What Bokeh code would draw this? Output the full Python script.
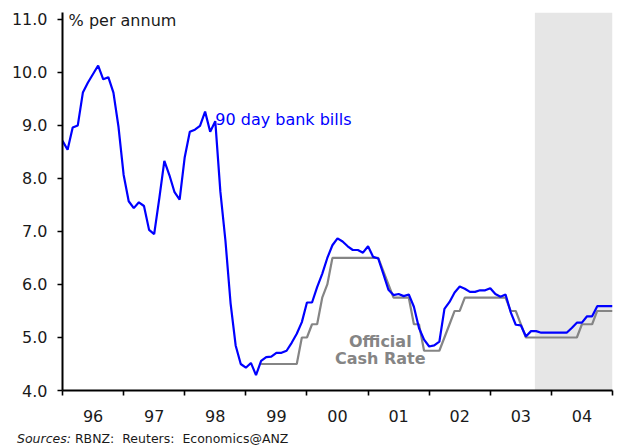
from bokeh.plotting import figure
from bokeh.models import (FixedTicker, Label, BoxAnnotation, PrintfTickFormatter,
                          ColumnDataSource, Div)
from bokeh.layouts import column
from bokeh.embed import file_html
from bokeh.resources import INLINE

# Monthly series, January 1996 onwards (% per annum)
start_year = 1996
bank_bills_90d = [
    8.71, 8.54, 8.96, 9.00, 9.62, 9.81, 9.97, 10.13, 9.87, 9.91, 9.62, 8.97,   # 1996
    8.07, 7.57, 7.44, 7.55, 7.48, 7.03, 6.95, 7.62, 8.33, 8.06, 7.74, 7.60,    # 1997
    8.40, 8.88, 8.92, 8.99, 9.26, 8.88, 9.08, 7.75, 6.82, 5.65, 4.85, 4.50,    # 1998
    4.43, 4.52, 4.29, 4.56, 4.63, 4.64, 4.71, 4.71, 4.75, 4.90, 5.07, 5.29,    # 1999
    5.66, 5.66, 5.95, 6.20, 6.50, 6.74, 6.87, 6.81, 6.72, 6.65, 6.65, 6.60,    # 2000
    6.72, 6.52, 6.49, 6.20, 5.90, 5.80, 5.82, 5.78, 5.81, 5.58, 5.18, 4.96,    # 2001
    4.83, 4.85, 4.92, 5.54, 5.67, 5.85, 5.96, 5.92, 5.86, 5.86, 5.89, 5.89,    # 2002
    5.93, 5.82, 5.77, 5.81, 5.48, 5.24, 5.23, 5.02, 5.12, 5.12, 5.09, 5.09,    # 2003
    5.09, 5.09, 5.09, 5.09, 5.18, 5.28, 5.28, 5.40, 5.40, 5.59, 5.59, 5.59,    # 2004
    5.59,
]

# Official Cash Rate, first observation in April 1999 (month index 39)
ocr_start_index = 39
official_cash_rate = [
    4.50, 4.50, 4.50, 4.50, 4.50, 4.50, 4.50, 4.50, 5.00,
    5.00, 5.25, 5.25, 5.75, 6.00, 6.50, 6.50, 6.50, 6.50, 6.50, 6.50, 6.50,
    6.50, 6.50, 6.50, 6.25, 6.00, 5.75, 5.75, 5.75, 5.75, 5.25, 5.25, 4.75,
    4.75, 4.75, 4.75, 5.00, 5.25, 5.50, 5.50, 5.75, 5.75, 5.75, 5.75, 5.75,
    5.75, 5.75, 5.75, 5.75, 5.50, 5.50, 5.25, 5.00, 5.00, 5.00, 5.00, 5.00,
    5.00, 5.00, 5.00, 5.00, 5.00, 5.00, 5.25, 5.25, 5.25, 5.50, 5.50, 5.50,
    5.50,
]

year_labels = ["96", "97", "98", "99", "00", "01", "02", "03", "04"]
y_ticks = [4, 5, 6, 7, 8, 9, 10, 11]
forecast_start = 2003.73

bills_src = ColumnDataSource(dict(
    t=[start_year + i / 12 for i in range(len(bank_bills_90d))],
    rate=bank_bills_90d,
))
ocr_src = ColumnDataSource(dict(
    t=[start_year + (ocr_start_index + i) / 12 for i in range(len(official_cash_rate))],
    rate=official_cash_rate,
))

FONT = "DejaVu Sans"
BLUE = "#0000ff"
GREY = "#858585"
INK = "#1a1a1a"

p = figure(width=617, height=426, output_backend="svg", toolbar_location=None,
           title=None, x_range=(1996, 2005), y_range=(4, 11.13),
           min_border_left=62, min_border_right=5, min_border_top=12,
           min_border_bottom=36)
p.outline_line_color = None
p.xgrid.visible = False
p.ygrid.visible = False
p.background_fill_color = "white"
p.border_fill_color = "white"

# Forecast period shading
p.add_layout(BoxAnnotation(left=forecast_start, fill_color="#e6e6e6", fill_alpha=1.0,
                           line_color=None, level="underlay"))

p.line("t", "rate", source=ocr_src, line_color=GREY, line_width=2.2)
p.line("t", "rate", source=bills_src, line_color=BLUE, line_width=2.2)

# x axis: year boundaries as tick marks, year labels centred between them
n_years = len(year_labels)
mid_years = [start_year + k + 0.5 for k in range(n_years)]
p.xaxis.ticker = FixedTicker(ticks=mid_years,
                             minor_ticks=[start_year + k for k in range(n_years + 1)])
p.xaxis.major_label_overrides = {m: lab for m, lab in zip(mid_years, year_labels)}
p.xaxis.major_tick_line_color = None
p.xaxis.major_tick_out = 0
p.xaxis.major_tick_in = 0
p.xaxis.minor_tick_line_color = "black"
p.xaxis.minor_tick_line_width = 1.6
p.xaxis.minor_tick_out = 5
p.xaxis.minor_tick_in = 0
p.xaxis.major_label_standoff = 14

p.yaxis.ticker = FixedTicker(ticks=y_ticks, minor_ticks=[])
p.yaxis.formatter = PrintfTickFormatter(format="%.1f")
p.yaxis.major_tick_line_color = "black"
p.yaxis.major_tick_line_width = 1.6
p.yaxis.major_tick_out = 5
p.yaxis.major_tick_in = 0
p.yaxis.minor_tick_line_color = None
p.yaxis.major_label_standoff = 10

for ax in (p.xaxis, p.yaxis):
    ax.axis_line_color = "black"
    ax.axis_line_width = 2
    ax.major_label_text_font = FONT
    ax.major_label_text_font_size = "16px"
    ax.major_label_text_color = INK

# Annotations
p.add_layout(Label(x=1996.1, y=10.97, text="% per annum", text_font=FONT,
                   text_font_size="16px", text_color=INK,
                   text_baseline="middle", text_align="left"))
p.add_layout(Label(x=1998.5, y=9.11, text="90 day bank bills", text_font=FONT,
                   text_font_size="16px", text_color=BLUE,
                   text_baseline="middle", text_align="left"))
p.add_layout(Label(x=2001.2, y=4.93, text="Official", text_font=FONT,
                   text_font_size="16px", text_font_style="bold", text_color=GREY,
                   text_baseline="middle", text_align="center"))
p.add_layout(Label(x=2001.2, y=4.60, text="Cash Rate", text_font=FONT,
                   text_font_size="16px", text_font_style="bold", text_color=GREY,
                   text_baseline="middle", text_align="center"))

# Source line beneath the chart
sources = Div(
    text="<i>Sources:</i> RBNZ:&nbsp; Reuters:&nbsp; Economics@ANZ",
    width=617, height=19,
    styles={"font-family": FONT, "font-size": "12.5px", "line-height": "15px",
            "padding-left": "12px", "color": INK, "white-space": "nowrap"},
)

layout = column(p, sources, spacing=0)
open("out.html", "w").write(file_html(layout, INLINE))
